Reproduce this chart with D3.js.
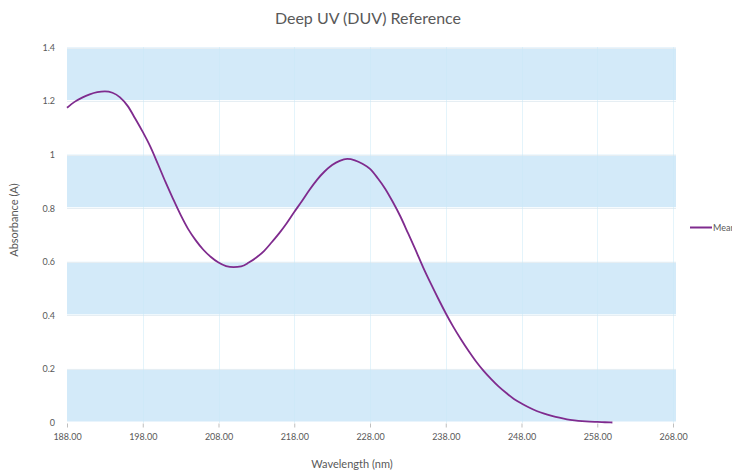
<!DOCTYPE html>
<html>
<head>
<meta charset="utf-8">
<script src="https://cdn.jsdelivr.net/npm/d3@7"></script>
<style>
  body { margin: 0; background: #fff; }
  svg { display: block; font-family: Lato, "Open Sans", sans-serif; }
</style>
</head>
<body>
<svg id="chart" width="732" height="472"></svg>
<script>
// wavelength (nm) and mean absorbance
var wavelength = [188,189,190,191,192,193,194,195,196,197,198,199,200,201,202,203,204,205,206,207,
  208,209,210,211,212,213,214,215,216,217,218,219,220,221,222,223,224,225,226,227,228,229,230,231,
  232,233,234,235,236,237,238,239,240,241,242,243,244,245,246,247,248,249,250,251,252,253,254,255,
  256,257,258,259,260];
var absorbance = [1.175,1.197,1.213,1.225,1.233,1.236,1.231,1.214,1.182,1.135,1.085,1.030,0.965,0.898,0.835,0.775,0.722,0.680,0.645,0.618,
  0.597,0.584,0.580,0.583,0.597,0.616,0.640,0.672,0.706,0.744,0.786,0.826,0.868,0.906,0.937,0.961,0.977,0.984,0.979,0.966,0.947,0.913,0.873,0.824,
  0.770,0.708,0.645,0.580,0.520,0.463,0.408,0.357,0.311,0.268,0.228,0.193,0.162,0.134,0.110,0.088,0.071,0.056,0.043,0.033,0.025,0.018,0.012,0.008,
  0.005,0.003,0.002,0.001,0.000];
var xTicks = [188,198,208,218,228,238,248,258,268];
var yTicks = [0,0.2,0.4,0.6,0.8,1,1.2,1.4];
var bandRanges = [[0,0.2],[0.4,0.6],[0.8,1],[1.2,1.4]];

var data = wavelength.map(function(w,i) { return {w: w, a: absorbance[i]}; });

var svg = d3.select("#chart");
var textCol = "#595959";

var xs = d3.scaleLinear().domain([188,268]).range([67,673]);
var ys = d3.scaleLinear().domain([0,1.4]).range([422.5,47.5]);
var plotRight = 676;

// alternating bands
svg.append("g").selectAll("rect").data(bandRanges).enter().append("rect")
  .attr("x", xs(188))
  .attr("y", function(d) { return ys(d[1]); })
  .attr("width", plotRight - xs(188))
  .attr("height", function(d) { return ys(d[0]) - ys(d[1]) - 1; })
  .attr("fill", "#d3eaf9");

// horizontal gridlines
svg.append("g").selectAll("line").data(yTicks.slice(1)).enter().append("line")
  .attr("x1", xs(188)).attr("x2", plotRight)
  .attr("y1", function(d) { return Math.round(ys(d)) + 0.5; })
  .attr("y2", function(d) { return Math.round(ys(d)) + 0.5; })
  .attr("stroke", "#e6eef3").attr("stroke-width", 1);

// vertical dotted gridlines
svg.append("g").selectAll("line").data(xTicks.slice(1)).enter().append("line")
  .attr("x1", function(d) { return Math.round(xs(d)) + 0.5; })
  .attr("x2", function(d) { return Math.round(xs(d)) + 0.5; })
  .attr("y1", ys(1.4)).attr("y2", ys(0))
  .attr("stroke", "#c8e9f7").attr("stroke-width", 1)
  .attr("stroke-dasharray", "1,1");

// x axis
var xAxis = svg.append("g")
  .attr("transform", "translate(0," + (ys(0) + 1) + ")")
  .call(d3.axisBottom(xs).tickValues(xTicks).tickFormat(d3.format(".2f")).tickSize(4).tickPadding(6));
xAxis.select(".domain").remove();
xAxis.selectAll("line").attr("stroke", "#bfbfbf");
xAxis.selectAll("text").attr("fill", textCol).attr("font-size", "9px").attr("font-family", "Lato");

// y axis
var yAxis = svg.append("g")
  .attr("transform", "translate(" + xs(188) + ",0)")
  .call(d3.axisLeft(ys).tickValues(yTicks).tickFormat(d3.format("~g")).tickSize(0).tickPadding(12));
yAxis.select(".domain").remove();
yAxis.selectAll("text").attr("fill", textCol).attr("font-size", "9px").attr("font-family", "Lato");

// mean line
svg.append("path")
  .datum(data)
  .attr("fill", "none")
  .attr("stroke", "#7f2b8e")
  .attr("stroke-width", 1.8)
  .attr("stroke-linejoin", "round")
  .attr("d", d3.line()
    .x(function(d) { return xs(d.w); })
    .y(function(d) { return ys(d.a); })
    .curve(d3.curveMonotoneX));

// title
svg.append("text")
  .attr("x", 368).attr("y", 24)
  .attr("text-anchor", "middle")
  .attr("fill", textCol).attr("font-size", "16px")
  .text("Deep UV (DUV) Reference");

// axis titles
svg.append("text")
  .attr("x", 352).attr("y", 468)
  .attr("text-anchor", "middle")
  .attr("fill", textCol).attr("font-size", "11px")
  .text("Wavelength (nm)");

svg.append("text")
  .attr("transform", "translate(18,220) rotate(-90)")
  .attr("text-anchor", "middle")
  .attr("fill", textCol).attr("font-size", "11px")
  .text("Absorbance (A)");

// legend
svg.append("line")
  .attr("x1", 690).attr("x2", 712).attr("y1", 227.5).attr("y2", 227.5)
  .attr("stroke", "#7f2b8e").attr("stroke-width", 2);
svg.append("text")
  .attr("x", 713).attr("y", 230.5)
  .attr("fill", textCol).attr("font-size", "9px")
  .text("Mean");
</script>
</body>
</html>
